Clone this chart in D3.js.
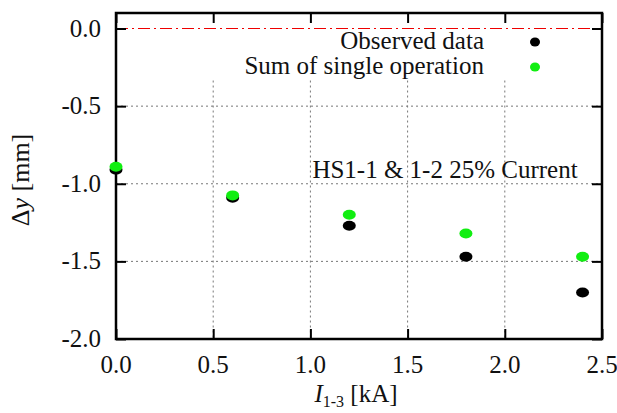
<!DOCTYPE html>
<html>
<head>
<meta charset="utf-8">
<script src="https://cdn.jsdelivr.net/npm/d3@7"></script>
<style>
  body { margin: 0; background: #fff; }
  text { font-family: "Liberation Serif", "Times New Roman", serif; fill: #111; }
</style>
</head>
<body>
<svg width="617" height="413"></svg>
<script>
// data
var currents = [0.0, 0.6, 1.2, 1.8, 2.4];
var observed = [-0.91, -1.09, -1.27, -1.47, -1.70];
var summed   = [-0.89, -1.075, -1.20, -1.32, -1.47];
var xTicks = [0.0, 0.5, 1.0, 1.5, 2.0, 2.5];
var yTicks = [0.0, -0.5, -1.0, -1.5, -2.0];
var seriesNames = ["Observed data", "Sum of single operation"];
var seriesColors = ["#000000", "#11ee11"];

function drawChart()
{
    const left = 116, right = 602, top = 13, bottom = 339;
    const tickLen = 10;

    var svg = d3.select("svg");

    var xScale = d3.scaleLinear().domain([0, 2.5]).range([left, right]);
    var yScale = d3.scaleLinear().domain([-2.0, 0.1]).range([bottom, top]);

    // grid (the key area at the top hides the vertical lines)
    var gridTop = yScale(-0.335);
    svg.append("g").selectAll("line")
        .data(xTicks.slice(1, -1))
        .enter().append("line")
        .attr("x1", d => xScale(d)).attr("x2", d => xScale(d))
        .attr("y1", gridTop).attr("y2", bottom)
        .attr("stroke", "#777").attr("stroke-dasharray", "2,3");
    svg.append("g").selectAll("line")
        .data(yTicks.slice(1, -1))
        .enter().append("line")
        .attr("x1", left).attr("x2", right)
        .attr("y1", d => yScale(d)).attr("y2", d => yScale(d))
        .attr("stroke", "#777").attr("stroke-dasharray", "2,3");

    // zero line
    svg.append("line")
        .attr("x1", left).attr("x2", right)
        .attr("y1", yScale(0)).attr("y2", yScale(0))
        .attr("stroke", "#ee0000").attr("stroke-width", 1.2)
        .attr("stroke-dasharray", "12,4,2,4");

    // tick marks, inward on all sides
    var axes = [
        svg.append("g").attr("transform", `translate(0, ${bottom})`)
            .call(d3.axisBottom(xScale).tickValues(xTicks).tickSize(-tickLen).tickFormat("")),
        svg.append("g").attr("transform", `translate(0, ${top})`)
            .call(d3.axisTop(xScale).tickValues(xTicks).tickSize(-tickLen).tickFormat("")),
        svg.append("g").attr("transform", `translate(${left}, 0)`)
            .call(d3.axisLeft(yScale).tickValues(yTicks).tickSize(-tickLen).tickFormat("")),
        svg.append("g").attr("transform", `translate(${right}, 0)`)
            .call(d3.axisRight(yScale).tickValues(yTicks).tickSize(-tickLen).tickFormat(""))
    ];
    axes.forEach(function (g) {
        g.select(".domain").remove();
        g.selectAll(".tick line").attr("stroke", "#000").attr("stroke-width", 2);
    });

    // tick labels
    svg.append("g").selectAll("text")
        .data(xTicks)
        .enter().append("text")
        .attr("x", d => xScale(d)).attr("y", bottom + 34)
        .attr("text-anchor", "middle").style("font-size", "25px")
        .text(d => d.toFixed(1));
    svg.append("g").selectAll("text")
        .data(yTicks)
        .enter().append("text")
        .attr("x", left - 15).attr("y", d => yScale(d) + 8)
        .attr("text-anchor", "end").style("font-size", "25px")
        .text(d => d.toFixed(1));

    // frame
    svg.append("rect")
        .attr("x", left).attr("y", top)
        .attr("width", right - left).attr("height", bottom - top)
        .attr("fill", "none").attr("stroke", "#000").attr("stroke-width", 2.5);

    // points
    var series = [observed, summed];
    series.forEach(function (vals, s) {
        svg.append("g").selectAll("ellipse")
            .data(vals)
            .enter().append("ellipse")
            .attr("cx", (d, i) => xScale(currents[i]))
            .attr("cy", d => yScale(d))
            .attr("rx", 6.5).attr("ry", 5)
            .attr("fill", seriesColors[s]);
    });

    // key
    var key = svg.append("g");
    seriesNames.forEach(function (name, s) {
        var ky = 42 + s * 25;
        key.append("text")
            .attr("x", 484).attr("y", ky + 7)
            .attr("text-anchor", "end").style("font-size", "25px")
            .text(name);
        key.append("ellipse")
            .attr("cx", 535).attr("cy", ky)
            .attr("rx", 5).attr("ry", 4.5)
            .attr("fill", seriesColors[s]);
    });

    // annotation
    svg.append("text")
        .attr("x", xScale(1.0) + 2).attr("y", yScale(-0.96))
        .style("font-size", "25px")
        .text("HS1-1 & 1-2 25% Current");

    // axis labels
    var xl = svg.append("text")
        .attr("x", 356).attr("y", 402)
        .attr("text-anchor", "middle").style("font-size", "25px");
    xl.append("tspan").attr("font-style", "italic").text("I");
    xl.append("tspan").attr("dy", 5).style("font-size", "16px").text("1-3");
    xl.append("tspan").attr("dy", -5).text(" [kA]");

    var yl = svg.append("text")
        .attr("transform", "translate(29, 180) rotate(-90)")
        .attr("text-anchor", "middle").style("font-size", "26px");
    yl.append("tspan").text("Δ");
    yl.append("tspan").attr("font-style", "italic").text("y");
    yl.append("tspan").text(" [mm]");
}

drawChart();
</script>
</body>
</html>
